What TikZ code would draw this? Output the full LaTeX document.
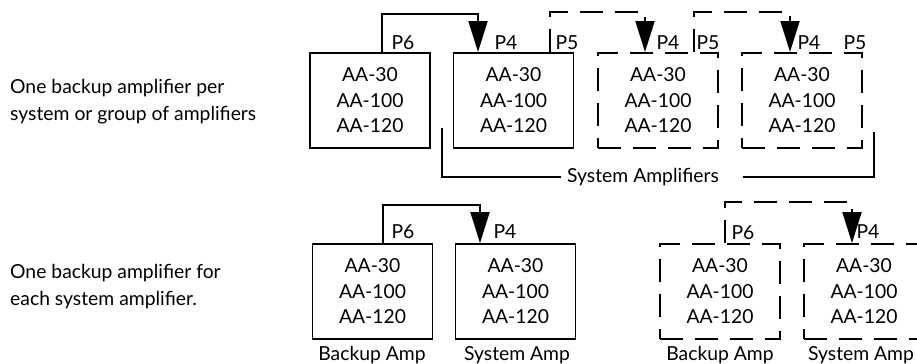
\documentclass[tikz,border=0pt]{standalone}
\usepackage{fontspec}
\setmainfont{Lato}
\usetikzlibrary{arrows.meta,positioning,calc}

\begin{document}
\begin{tikzpicture}[
    x=0.02cm, y=-0.02cm,
    amp/.style={draw, line width=1.1pt, minimum width=2.4cm, minimum height=1.9cm, inner sep=0pt, align=center, font=\fontsize{11}{14.5}\selectfont},
    spare/.style={amp, dash pattern=on 0.46cm off 0.24cm},
    port/.style={font=\fontsize{11}{12}\selectfont},
    note/.style={anchor=west, align=left, font=\fontsize{11}{15.4}\selectfont},
    caption/.style={font=\fontsize{11}{12}\selectfont},
    link/.style={-{Triangle[length=0.62cm, width=0.38cm]}, line width=1.1pt},
    dlink/.style={link, dash pattern=on 0.46cm off 0.24cm},
]
\clip (0,0) rectangle (917,364);

% Notes
\node[note] (n1) at (4, 101.5) {One backup amplifier per\\system or group of amplifiers};
\node[note] (n2) at (4, 286.5) {One backup amplifier for\\each system amplifier.};

% Top row
\node[amp] (bk1) at (370, 100.5) {AA-30\\AA-100\\AA-120};
\node[amp] (sa1) at (513.5, 100.5) {AA-30\\AA-100\\AA-120};
\node[spare] (sa2) at (658, 100.5) {AA-30\\AA-100\\AA-120};
\node[spare] (sa3) at (802, 100.5) {AA-30\\AA-100\\AA-120};

\node[port] (p6a) at (403, 43) {P6};
\node[port] (p4a) at (506, 43) {P4};
\node[port] (p5a) at (567, 43) {P5};
\node[port] (p4b) at (668, 43) {P4};
\node[port] (p5b) at (708, 43) {P5};
\node[port] (p4c) at (809, 43) {P4};
\node[port] (p5c) at (855, 43) {P5};

\draw[link] ($(bk1.north)+(12,0)$) -- ++(0,-38) -| ($(sa1.north)+(-35.5,0)$);
\draw[dlink] ($(sa1.north)+(36.5,0)$) -- ++(0,-40) -| ($(sa2.north)+(-13,0)$);
\draw[dlink] ($(sa2.north)+(36,0)$) -- ++(0,-40) -| ($(sa3.north)+(-12,0)$);

% System amplifiers bracket
\node[caption] (sys) at (643, 177) {System Amplifiers};
\coordinate (brl) at (442, 128);
\coordinate (brr) at (874, 132);
\draw[line width=1.1pt] (brl) |- (sys.west);
\draw[line width=1.1pt] (sys.east) ++(18,0) -| (brr);

% Bottom row
\node[amp] (bk2) at (372.5, 291.5) {AA-30\\AA-100\\AA-120};
\node[amp] (sa4) at (515.5, 291.5) {AA-30\\AA-100\\AA-120};
\node[spare] (bk3) at (720, 291.5) {AA-30\\AA-100\\AA-120};
\node[spare] (sa5) at (864, 291.5) {AA-30\\AA-100\\AA-120};

\node[port] (p6d) at (403, 232) {P6};
\node[port] (p4d) at (505, 232) {P4};
\node[port] (p6e) at (743, 233) {P6};
\node[port] (p4e) at (868, 232) {P4};

\draw[link] ($(bk2.north)+(10.5,0)$) -- ++(0,-38) -| ($(sa4.north)+(-35.5,0)$);
\draw[dlink] ($(bk3.north)+(5,0)$) -- ++(0,-41) -| ($(sa5.north)+(-12,0)$);

\node[caption] (c1) at (372, 355) {Backup Amp};
\node[caption] (c2) at (517, 355) {System Amp};
\node[caption] (c3) at (720, 355) {Backup Amp};
\node[caption] (c4) at (861, 355) {System Amp};

\end{tikzpicture}
\end{document}
